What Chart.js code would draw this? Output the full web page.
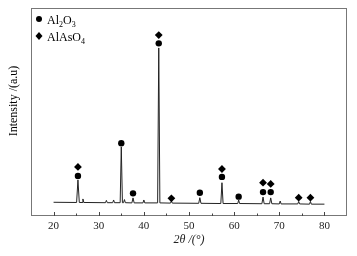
<!DOCTYPE html>
<html lang="en">
<head>
<meta charset="UTF-8">
<title>XRD pattern</title>
<script src="https://cdn.jsdelivr.net/npm/chart.js"></script>
<style>
  html, body { margin: 0; padding: 0; background: #ffffff; }
  #wrap { width: 357px; height: 256px; }
</style>
</head>
<body>
<div id="wrap"><canvas id="xrd"></canvas></div>
<script>
// diffraction pattern
const twoTheta = [20, 25.1, 25.4, 25.7, 26.3, 26.5, 26.7, 31.5, 31.7, 31.9, 33.1, 33.3, 33.5,
  34.75, 35.0, 35.25, 35.5, 35.7, 35.9, 37.35, 37.6, 37.85, 39.8, 40.0, 40.2, 43.05, 43.3, 43.55,
  45.9, 46.1, 46.3, 52.15, 52.4, 52.65, 57.05, 57.3, 57.55, 60.8, 61.0, 61.2, 66.15, 66.4, 66.65,
  67.85, 68.1, 68.35, 70.0, 70.2, 70.4, 74.1, 74.3, 74.5, 76.7, 76.9, 77.1, 80];
const intensity = [6.6, 6.5, 17.3, 6.5, 6.5, 8.2, 6.5, 6.4, 7.5, 6.4, 6.4, 7.7, 6.4,
  6.4, 33.2, 6.4, 6.4, 7.9, 6.4, 6.3, 8.7, 6.3, 6.3, 7.7, 6.3, 6.3, 80.8, 6.3,
  6.2, 7.2, 6.2, 6.1, 8.8, 6.1, 6.0, 16.0, 6.0, 6.0, 7.7, 6.0, 5.9, 9.1, 5.9,
  5.9, 8.7, 5.9, 5.8, 7.2, 5.8, 5.8, 7.0, 5.8, 5.7, 7.0, 5.7, 5.7];

// phase markers
const al2o3X = [25.4, 35.0, 37.6, 43.3, 52.4, 57.3, 61.0, 66.4, 68.1];
const al2o3Y = [19.2, 35.0, 10.9, 83.0, 11.2, 18.8, 9.3, 11.5, 11.5];
const alaso4X = [25.4, 43.3, 46.1, 57.3, 66.4, 68.1, 74.3, 76.9];
const alaso4Y = [23.6, 87.0, 8.5, 22.6, 16.0, 15.4, 8.8, 8.8];

const xTicks = [20, 30, 40, 50, 60, 70, 80];
const xMinorTicks = [25, 35, 45, 55, 65, 75];

const serif = '"Liberation Serif", "DejaVu Serif", serif';

// box, inward ticks, legend with subscripts, y title
const decorations = {
  id: 'decorations',
  afterDraw(chart) {
    const ctx = chart.ctx;
    const a = chart.chartArea;
    const xs = chart.scales.x;
    ctx.save();
    ctx.strokeStyle = '#777';
    ctx.lineWidth = 1;
    ctx.strokeRect(a.left + 0.5, a.top + 0.5, a.right - a.left - 1, a.bottom - a.top - 1);
    ctx.strokeStyle = '#444';
    ctx.beginPath();
    xTicks.forEach(v => {
      const px = Math.round(xs.getPixelForValue(v)) + 0.5;
      ctx.moveTo(px, a.bottom); ctx.lineTo(px, a.bottom - 4);
    });
    xMinorTicks.forEach(v => {
      const px = Math.round(xs.getPixelForValue(v)) + 0.5;
      ctx.moveTo(px, a.bottom); ctx.lineTo(px, a.bottom - 2.5);
    });
    ctx.stroke();

    // legend
    ctx.fillStyle = '#000';
    ctx.beginPath();
    ctx.arc(39, 19, 3, 0, Math.PI * 2);
    ctx.fill();
    ctx.beginPath();
    ctx.moveTo(39, 32); ctx.lineTo(42.5, 36); ctx.lineTo(39, 40); ctx.lineTo(35.5, 36);
    ctx.closePath();
    ctx.fill();
    const drawParts = (parts, x, y) => {
      parts.forEach(p => {
        ctx.font = (p[1] ? '8px ' : '12px ') + serif;
        ctx.fillText(p[0], x, p[1] ? y + 3 : y);
        x += ctx.measureText(p[0]).width;
      });
    };
    ctx.textBaseline = 'alphabetic';
    drawParts([['Al', 0], ['2', 1], ['O', 0], ['3', 1]], 47, 24);
    drawParts([['AlAsO', 0], ['4', 1]], 47, 41);

    // y title
    ctx.translate(14, 101);
    ctx.rotate(-Math.PI / 2);
    ctx.textAlign = 'center';
    ctx.textBaseline = 'middle';
    ctx.font = '12px ' + serif;
    ctx.fillText('Intensity /(a.u)', 0, 0);
    ctx.restore();
  }
};

new Chart(document.getElementById('xrd'), {
  type: 'line',
  data: {
    datasets: [
      {
        label: 'pattern',
        data: twoTheta.map((x, i) => ({ x: x, y: intensity[i] })),
        borderColor: '#222',
        borderWidth: 1,
        pointRadius: 0,
        tension: 0,
        order: 2
      },
      {
        type: 'scatter',
        label: 'Al2O3',
        data: al2o3X.map((x, i) => ({ x: x, y: al2o3Y[i] })),
        pointStyle: 'circle',
        pointRadius: 3.2,
        backgroundColor: '#000',
        borderColor: '#000',
        borderWidth: 0,
        order: 1
      },
      {
        type: 'scatter',
        label: 'AlAsO4',
        data: alaso4X.map((x, i) => ({ x: x, y: alaso4Y[i] })),
        pointStyle: 'rectRot',
        pointRadius: 3.9,
        backgroundColor: '#000',
        borderColor: '#000',
        borderWidth: 0,
        order: 1
      }
    ]
  },
  options: {
    responsive: true,
    maintainAspectRatio: false,
    animation: false,
    layout: { padding: { top: 8, right: 10, left: 0, bottom: 9 } },
    plugins: { legend: { display: false }, tooltip: { enabled: false } },
    scales: {
      x: {
        type: 'linear',
        min: 15,
        max: 85,
        grid: { display: false, drawTicks: false },
        border: { display: false },
        afterBuildTicks: s => { s.ticks = xTicks.map(v => ({ value: v })); },
        afterFit: s => { s.height = 31; },
        ticks: { color: '#222', padding: 4, font: { family: serif, size: 11 } },
        title: {
          display: true,
          text: '2θ /(°)',
          color: '#222',
          padding: { top: 0, bottom: 0 },
          font: { family: serif, size: 12, style: 'italic' }
        }
      },
      y: {
        min: 0,
        max: 100,
        grid: { display: false, drawTicks: false },
        border: { display: false },
        ticks: { display: false },
        afterFit: s => { s.width = 31; }
      }
    }
  },
  plugins: [decorations]
});
</script>
</body>
</html>
